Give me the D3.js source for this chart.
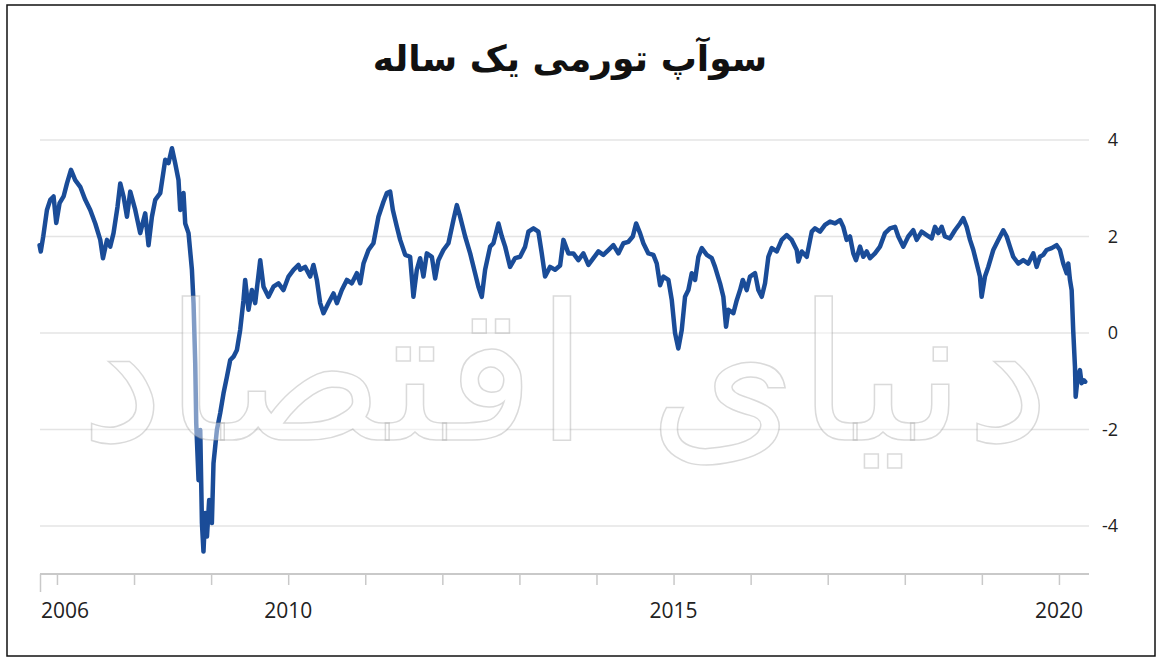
<!DOCTYPE html>
<html lang="fa">
<head>
<meta charset="utf-8">
<title>سوآپ تورمی یک ساله</title>
<script src="https://cdn.jsdelivr.net/npm/d3@7"></script>
<style>
    html, body { margin: 0; padding: 0; background: #fff; }
    #chart { width: 1161px; height: 661px; }
</style>
</head>
<body>
<div id="chart"></div>
<script>
// Chart data
const chartTitle = 'سوآپ تورمی یک ساله';
const watermarkText = 'دنیای اقتصاد';
const yTicks = [-4, -2, 0, 2, 4];
const yearTicks = [2007, 2008, 2009, 2010, 2011, 2012, 2013, 2014, 2015, 2016, 2017, 2018, 2019, 2020];
const xTickLabels = [
    { year: 2006.78, label: '2006', anchor: 'start' },
    { year: 2010, label: '2010', anchor: 'middle' },
    { year: 2015, label: '2015', anchor: 'middle' },
    { year: 2020, label: '2020', anchor: 'middle' }
];
const xDomain = [2006.78, 2020.39];

// [decimal year, 1y inflation swap %]
const swapSeries = [
    [2006.774, 1.82], [2006.790, 1.69], [2006.822, 2.00], [2006.870, 2.55], [2006.913, 2.76],
    [2006.956, 2.83], [2006.991, 2.28], [2007.034, 2.69], [2007.086, 2.83], [2007.130, 3.10],
    [2007.182, 3.38], [2007.237, 3.17], [2007.302, 3.03], [2007.367, 2.76], [2007.432, 2.55],
    [2007.497, 2.27], [2007.562, 1.93], [2007.597, 1.55], [2007.649, 1.93], [2007.691, 1.79],
    [2007.734, 2.07], [2007.786, 2.62], [2007.821, 3.10], [2007.864, 2.83], [2007.908, 2.41],
    [2007.951, 2.93], [2008.016, 2.55], [2008.080, 2.07], [2008.145, 2.48], [2008.188, 1.82],
    [2008.232, 2.41], [2008.275, 2.76], [2008.340, 2.90], [2008.405, 3.59], [2008.447, 3.52],
    [2008.492, 3.83], [2008.534, 3.52], [2008.577, 3.17], [2008.599, 2.55], [2008.642, 2.90],
    [2008.664, 2.27], [2008.707, 2.07], [2008.751, 1.31], [2008.772, 0.62], [2008.794, -0.63],
    [2008.807, -1.87], [2008.837, -3.05], [2008.859, -2.01], [2008.881, -3.94], [2008.901, -4.53],
    [2008.924, -3.73], [2008.946, -4.22], [2008.975, -3.46], [2009.010, -3.94], [2009.031, -2.70],
    [2009.075, -2.01], [2009.118, -1.66], [2009.161, -1.25], [2009.205, -0.91], [2009.248, -0.56],
    [2009.291, -0.49], [2009.335, -0.35], [2009.377, 0.06], [2009.420, 0.68], [2009.442, 1.10],
    [2009.485, 0.48], [2009.529, 0.89], [2009.572, 0.62], [2009.637, 1.51], [2009.680, 0.96],
    [2009.744, 0.75], [2009.809, 0.96], [2009.874, 1.03], [2009.939, 0.89], [2010.004, 1.17],
    [2010.069, 1.31], [2010.134, 1.41], [2010.156, 1.31], [2010.220, 1.37], [2010.285, 1.17],
    [2010.328, 1.41], [2010.372, 1.10], [2010.415, 0.62], [2010.458, 0.41], [2010.523, 0.62],
    [2010.588, 0.82], [2010.632, 0.62], [2010.696, 0.89], [2010.761, 1.10], [2010.826, 1.03],
    [2010.891, 1.24], [2010.934, 1.03], [2010.977, 1.44], [2011.042, 1.72], [2011.106, 1.86],
    [2011.171, 2.41], [2011.236, 2.72], [2011.280, 2.90], [2011.323, 2.93], [2011.358, 2.55],
    [2011.410, 2.20], [2011.453, 1.93], [2011.518, 1.62], [2011.582, 1.58], [2011.625, 0.75],
    [2011.669, 1.31], [2011.712, 1.55], [2011.755, 1.17], [2011.799, 1.65], [2011.864, 1.58],
    [2011.907, 1.13], [2011.949, 1.51], [2012.014, 1.72], [2012.079, 1.86], [2012.144, 2.34],
    [2012.188, 2.65], [2012.231, 2.41], [2012.296, 2.00], [2012.361, 1.65], [2012.425, 1.24],
    [2012.468, 0.96], [2012.512, 0.75], [2012.555, 1.31], [2012.620, 1.79], [2012.663, 1.86],
    [2012.728, 2.27], [2012.772, 2.00], [2012.815, 1.79], [2012.879, 1.37], [2012.944, 1.55],
    [2013.009, 1.58], [2013.074, 1.79], [2013.117, 2.10], [2013.182, 2.17], [2013.246, 2.10],
    [2013.290, 1.65], [2013.333, 1.17], [2013.398, 1.37], [2013.463, 1.31], [2013.528, 1.40],
    [2013.571, 1.93], [2013.636, 1.65], [2013.700, 1.65], [2013.765, 1.51], [2013.830, 1.65],
    [2013.895, 1.41], [2013.960, 1.55], [2014.025, 1.69], [2014.089, 1.62], [2014.154, 1.72],
    [2014.219, 1.82], [2014.284, 1.65], [2014.349, 1.86], [2014.414, 1.89], [2014.471, 2.00],
    [2014.514, 2.27], [2014.565, 2.07], [2014.608, 1.86], [2014.673, 1.65], [2014.738, 1.62],
    [2014.782, 1.44], [2014.825, 0.99], [2014.868, 1.17], [2014.933, 1.10], [2014.977, 0.68],
    [2015.019, 0.00], [2015.062, -0.32], [2015.106, 0.06], [2015.149, 0.75], [2015.192, 0.89],
    [2015.236, 1.24], [2015.279, 1.10], [2015.322, 1.58], [2015.366, 1.76], [2015.431, 1.62],
    [2015.496, 1.55], [2015.538, 1.37], [2015.603, 1.03], [2015.646, 0.75], [2015.681, 0.13],
    [2015.711, 0.48], [2015.776, 0.41], [2015.820, 0.68], [2015.863, 0.89], [2015.898, 1.10],
    [2015.949, 0.89], [2015.992, 1.17], [2016.057, 1.24], [2016.100, 0.89], [2016.144, 0.75],
    [2016.187, 1.03], [2016.230, 1.58], [2016.274, 1.76], [2016.339, 1.69], [2016.403, 1.93],
    [2016.468, 2.03], [2016.533, 1.93], [2016.598, 1.72], [2016.619, 1.48], [2016.663, 1.69],
    [2016.728, 1.58], [2016.793, 2.10], [2016.835, 2.17], [2016.900, 2.10], [2016.965, 2.24],
    [2017.030, 2.31], [2017.095, 2.27], [2017.160, 2.34], [2017.202, 2.20], [2017.246, 1.93],
    [2017.289, 2.00], [2017.332, 1.65], [2017.367, 1.51], [2017.419, 1.79], [2017.462, 1.58],
    [2017.506, 1.69], [2017.549, 1.55], [2017.613, 1.65], [2017.678, 1.79], [2017.743, 2.07],
    [2017.808, 2.17], [2017.873, 2.20], [2017.916, 2.00], [2017.981, 1.79], [2018.045, 2.00],
    [2018.110, 2.13], [2018.154, 1.93], [2018.219, 2.10], [2018.284, 2.03], [2018.349, 1.96],
    [2018.392, 2.20], [2018.435, 2.07], [2018.479, 2.20], [2018.521, 2.00], [2018.586, 1.96],
    [2018.651, 2.13], [2018.716, 2.27], [2018.759, 2.38], [2018.803, 2.20], [2018.846, 1.93],
    [2018.889, 1.72], [2018.933, 1.44], [2018.975, 1.17], [2018.997, 0.75], [2019.040, 1.17],
    [2019.083, 1.37], [2019.148, 1.72], [2019.213, 1.93], [2019.278, 2.13], [2019.322, 2.00],
    [2019.364, 1.79], [2019.407, 1.58], [2019.472, 1.44], [2019.537, 1.51], [2019.602, 1.44],
    [2019.667, 1.65], [2019.711, 1.37], [2019.754, 1.58], [2019.796, 1.62], [2019.840, 1.72],
    [2019.905, 1.76], [2019.970, 1.82], [2020.013, 1.72], [2020.056, 1.44], [2020.100, 1.24],
    [2020.121, 1.44], [2020.143, 1.10], [2020.165, 0.89], [2020.185, 0.06], [2020.208, -0.70],
    [2020.217, -1.32], [2020.243, -0.91], [2020.272, -0.77], [2020.294, -1.04], [2020.324, -0.98],
    [2020.341, -1.01]
];

class SwapChart {
    constructor(containerId) {
        this.width = 1161;
        this.height = 661;
        this.plot = { left: 40, right: 1089, top: 140, bottom: 526, axisY: 574 };
        this.lineColor = '#1a4c98';
        this.svg = d3.select('#' + containerId)
            .append('svg')
            .attr('width', this.width)
            .attr('height', this.height);

        this.x = d3.scaleLinear().domain(xDomain).range([this.plot.left, this.plot.right]);
        this.y = d3.scaleLinear().domain([-4, 4]).range([this.plot.bottom, this.plot.top]);

        this.drawFrame();
        this.drawTitle();
        this.drawGrid();
        this.drawXAxis();
        this.drawLine();
        this.drawWatermark();
    }

    drawFrame() {
        this.svg.append('rect')
            .attr('x', 7).attr('y', 5)
            .attr('width', 1148).attr('height', 651)
            .attr('fill', '#fff')
            .attr('stroke', '#111')
            .attr('stroke-width', 1.5);
    }

    drawTitle() {
        this.svg.append('text')
            .attr('x', 570)
            .attr('y', 71)
            .attr('text-anchor', 'middle')
            .attr('direction', 'rtl')
            .attr('font-family', '"DejaVu Sans", sans-serif')
            .attr('font-weight', 700)
            .attr('font-size', '36px')
            .attr('fill', '#111')
            .text(chartTitle);
    }

    drawGrid() {
        // horizontal gridlines + right-hand value labels
        const g = this.svg.append('g').attr('class', 'grid');
        g.selectAll('line')
            .data(yTicks)
            .enter()
            .append('line')
            .attr('x1', this.plot.left)
            .attr('x2', this.plot.right)
            .attr('y1', d => this.y(d))
            .attr('y2', d => this.y(d))
            .attr('stroke', '#e4e4e4')
            .attr('stroke-width', 1.5);

        g.selectAll('text')
            .data(yTicks)
            .enter()
            .append('text')
            .attr('x', 1118)
            .attr('y', d => this.y(d))
            .attr('dy', '0.36em')
            .attr('text-anchor', 'end')
            .attr('font-family', '"Open Sans", sans-serif')
            .attr('font-size', '18px')
            .attr('fill', '#222')
            .text(d => d);
    }

    drawXAxis() {
        const axis = d3.axisBottom(this.x)
            .tickValues([xDomain[0]].concat(yearTicks))
            .tickSize(11)
            .tickFormat('');

        const g = this.svg.append('g')
            .attr('class', 'x-axis')
            .attr('transform', `translate(0, ${this.plot.axisY})`)
            .call(axis);

        g.select('.domain')
            .attr('d', `M${this.plot.left},0H${this.plot.right}`)
            .attr('stroke', '#c9c9c9')
            .attr('stroke-width', 2);
        g.selectAll('.tick line')
            .attr('stroke', '#c9c9c9')
            .attr('stroke-width', 1.5)
            .attr('y2', d => d === xDomain[0] ? 18 : 11);

        this.svg.append('g')
            .attr('class', 'x-labels')
            .selectAll('text')
            .data(xTickLabels)
            .enter()
            .append('text')
            .attr('x', d => d.anchor === 'start' ? this.x(d.year) + 1 : this.x(d.year))
            .attr('y', 618)
            .attr('text-anchor', d => d.anchor)
            .attr('font-family', '"Open Sans", sans-serif')
            .attr('font-size', '21px')
            .attr('fill', '#222')
            .text(d => d.label);
    }

    drawLine() {
        const line = d3.line()
            .x(d => this.x(d[0]))
            .y(d => this.y(d[1]));

        this.svg.append('path')
            .datum(swapSeries)
            .attr('fill', 'none')
            .attr('stroke', this.lineColor)
            .attr('stroke-width', 4.5)
            .attr('stroke-linejoin', 'round')
            .attr('stroke-linecap', 'round')
            .attr('d', line);
    }

    drawWatermark() {
        // faint publisher mark laid over the plot
        this.svg.append('text')
            .attr('x', 565)
            .attr('y', 440)
            .attr('text-anchor', 'middle')
            .attr('direction', 'rtl')
            .attr('font-family', '"DejaVu Sans", sans-serif')
            .attr('font-size', '190px')
            .attr('fill', 'rgba(255,255,255,0.45)')
            .attr('stroke', 'rgba(150,150,150,0.35)')
            .attr('stroke-width', 1.5)
            .text(watermarkText);
    }
}

new SwapChart('chart');
</script>
</body>
</html>
